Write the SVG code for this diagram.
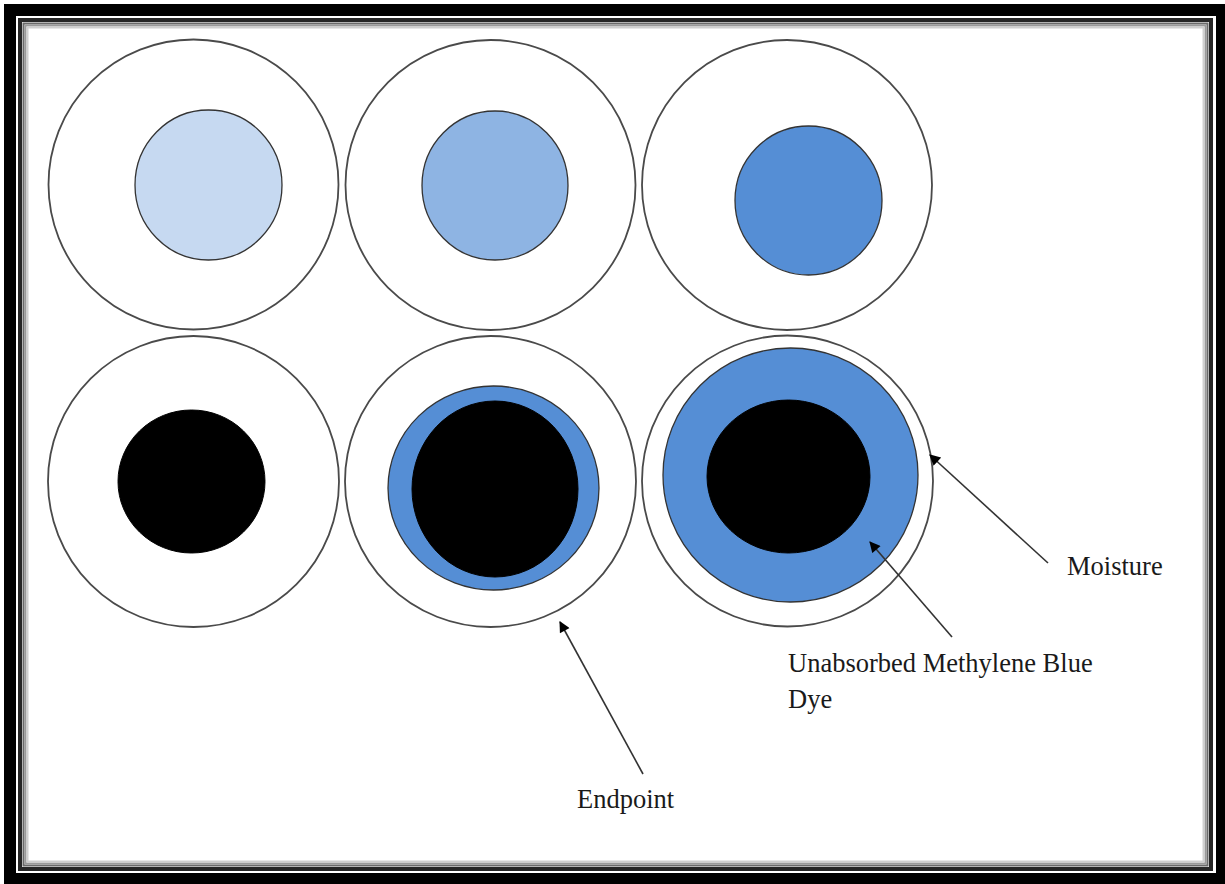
<svg xmlns="http://www.w3.org/2000/svg" width="1225" height="884" viewBox="0 0 1225 884">
  <style>
    .ring { fill: #ffffff; stroke: #4a4a4a; stroke-width: 1.8; }
    .dot { stroke: #333333; stroke-width: 1.3; }
    .c1 { fill: #c6d9f1; }
    .c2 { fill: #8eb4e3; }
    .c3 { fill: #558ed5; }
    .blk { fill: #000000; stroke: #000000; stroke-width: 1; }
    .lbl { font-family: "Liberation Serif", "Times New Roman", serif; font-size: 26.5px; fill: #1a1a1a; }
    .conn { stroke: #333333; stroke-width: 1.6; fill: none; marker-end: url(#arr); }
  </style>
  <defs>
    <marker id="arr" viewBox="0 0 10 10" refX="9" refY="5" markerWidth="12" markerHeight="11" markerUnits="userSpaceOnUse" orient="auto">
      <path d="M0,0 L10,5 L0,10 Z" fill="#000000"/>
    </marker>
  </defs>
  <rect x="0" y="0" width="1225" height="884" fill="#ffffff"/>
  <g id="frame">
    <path d="M4,4 H1225 V884 H4 Z M16,16 V873 H1216 V16 Z" fill="#000000" fill-rule="evenodd"/>
    <rect x="20" y="20" width="1191" height="849" fill="none" stroke="#262626" stroke-width="4"/>
    <rect x="23.5" y="23.5" width="1184" height="842" fill="none" stroke="#6a6a6a" stroke-width="2"/>
    <rect x="25.5" y="25.5" width="1180" height="838" fill="none" stroke="#9a9a9a" stroke-width="2"/>
    <rect x="27.5" y="27.5" width="1176" height="834" fill="none" stroke="#d0d0d0" stroke-width="2"/>
  </g>
  <g id="plate-1">
    <circle class="ring" cx="193.5" cy="184.5" r="145"/>
    <ellipse class="dot c1" cx="208.5" cy="185" rx="73.5" ry="75"/>
  </g>
  <g id="plate-2">
    <circle class="ring" cx="490.5" cy="185" r="145"/>
    <ellipse class="dot c2" cx="495" cy="185.5" rx="73" ry="74.5"/>
  </g>
  <g id="plate-3">
    <circle class="ring" cx="787" cy="185" r="145"/>
    <ellipse class="dot c3" cx="808.5" cy="200.5" rx="73.5" ry="74.5"/>
  </g>
  <g id="plate-4">
    <circle class="ring" cx="193.5" cy="481.5" r="145.5"/>
    <ellipse class="blk" cx="191.5" cy="481.5" rx="73.5" ry="71.5"/>
  </g>
  <g id="plate-5">
    <circle class="ring" cx="490.5" cy="481.5" r="145.5"/>
    <ellipse class="dot c3" cx="493.5" cy="488" rx="105.5" ry="102"/>
    <ellipse class="blk" cx="495" cy="489" rx="83" ry="88"/>
  </g>
  <g id="plate-6">
    <circle class="ring" cx="787.5" cy="481" r="145.5"/>
    <ellipse class="dot c3" cx="790.5" cy="475" rx="127.5" ry="127"/>
    <ellipse class="blk" cx="788.5" cy="476.5" rx="81.5" ry="76.5"/>
  </g>
  <g id="connectors">
    <line class="conn" x1="643" y1="774" x2="560" y2="622"/>
    <line class="conn" x1="1048" y1="563" x2="930" y2="455"/>
    <line class="conn" x1="952" y1="637" x2="870" y2="542"/>
  </g>
  <g id="label-endpoint">
    <text class="lbl" x="577" y="808">Endpoint</text>
  </g>
  <g id="label-moisture">
    <text class="lbl" x="1067" y="575">Moisture</text>
  </g>
  <g id="label-dye">
    <text class="lbl" x="788" y="672">Unabsorbed Methylene Blue</text>
    <text class="lbl" x="788" y="708">Dye</text>
  </g>
</svg>
